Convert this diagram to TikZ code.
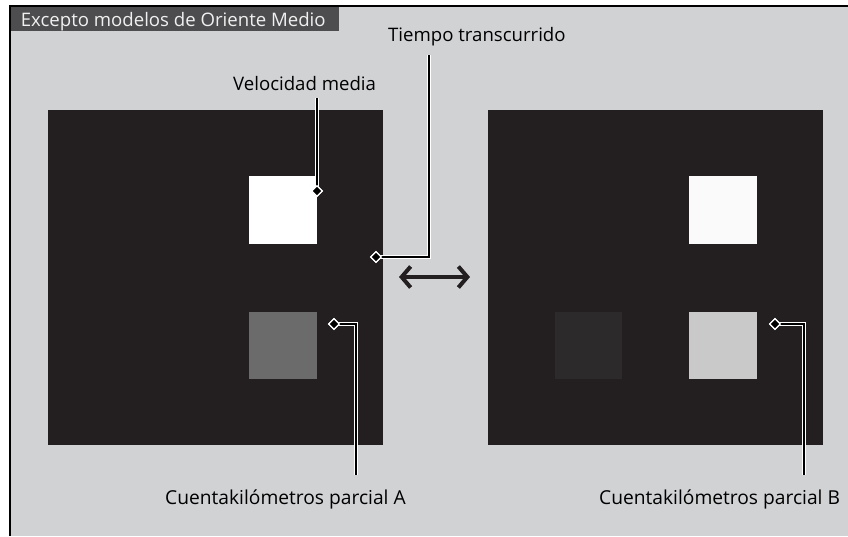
\documentclass[tikz,border=0pt]{standalone}
\usepackage{fontspec}
\setmainfont{Open Sans}
\usetikzlibrary{shapes.geometric,arrows.meta}
\definecolor{bggray}{HTML}{D1D2D4}
\definecolor{paneldark}{HTML}{231F20}
\definecolor{tabgray}{HTML}{4D4D4F}
\definecolor{tabtext}{HTML}{F0F0F0}
\definecolor{midgray}{HTML}{6B6B6B}
\definecolor{nearwhite}{HTML}{FAFAFA}
\definecolor{darksq}{HTML}{2C2A2B}
\definecolor{lightsq}{HTML}{C9C9CA}
\tikzset{
  lbl/.style={anchor=base west, inner sep=0pt, font=\fontsize{18.6}{20}\selectfont, text=black},
  biglbl/.style={lbl, font=\fontsize{19.2}{21}\selectfont},
  callout/.style={draw=white, double=black, double distance=2.2pt, line width=1.1pt, line join=miter},
  marker/.style={shape=diamond, fill=black, draw=white, line width=1.2pt, inner sep=0pt, minimum width=11pt, minimum height=11pt},
  panel/.style={fill=paneldark, draw=none},
}
\begin{document}
\begin{tikzpicture}[x=1pt,y=-1pt]
\useasboundingbox (0,0) rectangle (848,536);
\fill[white] (0,0) rectangle (848,536);
% frame
\fill[bggray] (10,6) rectangle (848,536);
\draw[line width=2pt] (848,6) -- (10,6) -- (10,536);
% tab
\fill[tabgray] (11,7) rectangle (339,31);
\node[lbl, text=tabtext] (tab) at (20.7,26.7) {Excepto modelos de Oriente Medio};
% panels
\fill[panel] (48,110) rectangle (383,445);
\fill[panel] (488,110) rectangle (823,445);
% squares left
\fill[white] (249,176) rectangle (317,244);
\fill[midgray] (249,312) rectangle (317,379);
% squares right
\fill[nearwhite] (689,176) rectangle (757,244);
\fill[darksq] (555,312) rectangle (622,379);
\fill[lightsq] (689,312) rectangle (757,379);
% labels
\node[lbl] (tiempo) at (388,41) {Tiempo transcurrido};
\node[lbl] (velo) at (233,90) {Velocidad media};
\node[biglbl] (cuentaA) at (165,504) {Cuentakilómetros parcial A};
\node[biglbl] (cuentaB) at (599,504) {Cuentakilómetros parcial B};
% markers
\node[marker] (mVelo) at (317,191) {};
\node[marker] (mTiempo) at (376,257) {};
\node[marker] (mA) at (334,324) {};
\node[marker] (mB) at (775,324) {};
% callout coordinates
\coordinate (vTop) at (317,98);
\coordinate (tTop) at (429,55);
\coordinate (tCorner) at (429,257);
\coordinate (aCorner) at (356,324);
\coordinate (aEnd) at (356,475);
\coordinate (bCorner) at (804,324);
\coordinate (bEnd) at (804,475);
% callouts
\draw[callout] (vTop) -- (mVelo.center);
\draw[callout] (tTop) -- (tCorner) -- (mTiempo.center);
\draw[callout] (aEnd) -- (aCorner) -- (mA.center);
\draw[callout] (bEnd) -- (bCorner) -- (mB.center);
% redraw markers on top
\node[marker] at (mVelo) {};
\node[marker] at (mTiempo) {};
\node[marker] at (mA) {};
\node[marker] at (mB) {};
% double arrow
\coordinate (arrL) at (399,277);
\coordinate (arrR) at (470,277);
\draw[paneldark, line width=4pt, {Straight Barb[length=9pt,width=21pt]}-{Straight Barb[length=9pt,width=21pt]}] (arrL) -- (arrR);
\end{tikzpicture}
\end{document}
